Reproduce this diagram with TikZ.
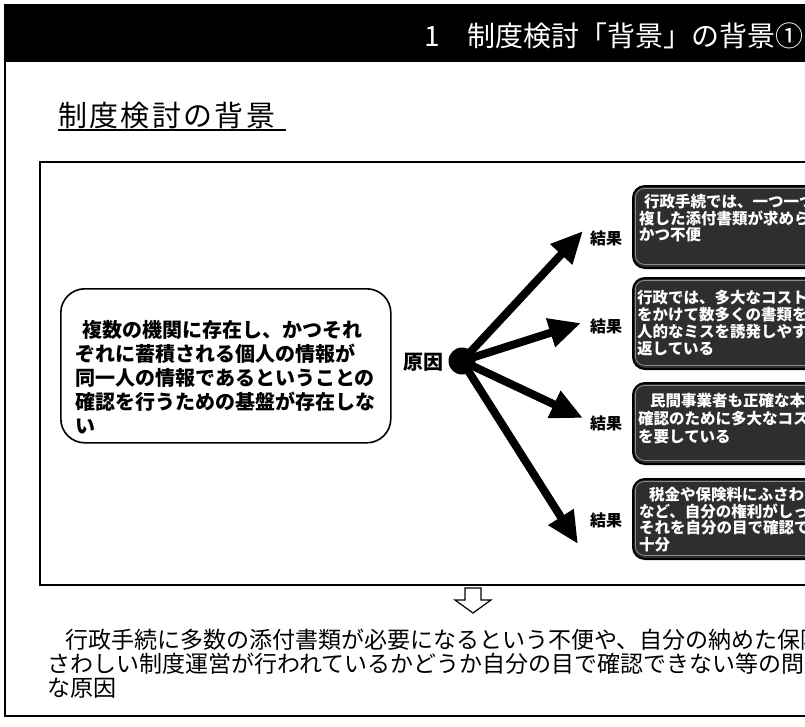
\documentclass[tikz,border=0pt]{standalone}
\usepackage{fontspec}
\setmainfont{Noto Sans CJK JP}
\newfontfamily\cjk{Noto Sans CJK JP}
\newfontfamily\cjkwide[LetterSpace=8]{Noto Sans CJK JP}
\usetikzlibrary{arrows.meta}
\tikzset{
  frameline/.style={line width=2pt, draw=black},
  causebox/.style={draw=black, line width=1.6pt, rounded corners=24pt, fill=white,
    minimum width=330pt, minimum height=154pt, anchor=north west, inner sep=0pt},
  resultbox/.style={draw=black, line width=2pt, rounded corners=12pt, fill=black!82,
    minimum width=220pt, anchor=north west, inner sep=0pt},
  resultring/.style={draw=white!55!black, line width=0.8pt, rounded corners=9pt,
    fill=none, minimum width=214pt, anchor=north west, inner sep=0pt},
  resulttext/.style={anchor=north west, inner sep=0pt, align=left, text=white,
    font=\cjk\bfseries\fontsize{15.5}{16.5}\selectfont},
  resultlabel/.style={anchor=west, inner sep=0pt, font=\cjk\bfseries\fontsize{16}{16}\selectfont},
  bigarrow/.style={line width=8pt, -{Triangle[length=32pt,width=28pt]}},
  hollowarrow/.style={draw=black, line width=1.2pt, fill=white, line join=miter}
}
\begin{document}
\begin{tikzpicture}[x=1pt,y=-1pt]
\useasboundingbox (0,0) rectangle (805,726);
\clip (0,0) rectangle (805,726);
\fill[white] (0,0) rectangle (805,726);

% slide frame and title bar
\fill[black] (4,4) rectangle (805,62);
\draw[frameline] (5,4) -- (5,716) -- (805,716);
\node[anchor=west, inner sep=0pt, text=white, font=\cjk\fontsize{28}{28}\selectfont] (title) at (424,36) {1　制度検討「背景」の背景①};

% subtitle
\node[anchor=base west, inner sep=0pt, font=\cjkwide\fontsize{29}{29}\selectfont] (sub) at (58,126) {制度検討の背景};
\draw[line width=1.3pt] (58,130) -- (286,130);

% main frame
\draw[frameline] (40,162) rectangle (840,585);

% cause box
\node[causebox] (cause) at (60,288) {};
\node[anchor=north west, inner sep=0pt, align=left, font=\cjk\bfseries\fontsize{20}{24}\selectfont] (causetext) at (75,320)
  {\hspace{7pt}複数の機関に存在し、かつそれ\\ぞれに蓄積される個人の情報が\\同一人の情報であるということの\\確認を行うための基盤が存在しな\\い};

\node[anchor=east, inner sep=0pt, font=\cjk\bfseries\fontsize{20}{20}\selectfont] (genin) at (444,362) {原因};
\node[circle, fill=black, minimum size=27pt, inner sep=0pt] (c) at (462,361) {};

% arrow tips
\coordinate (t1) at (583,231);
\coordinate (t2) at (581,323);
\coordinate (t3) at (583,418);
\coordinate (t4) at (578,544);
\draw[bigarrow] (c.center) -- (t1);
\draw[bigarrow] (c.center) -- (t2);
\draw[bigarrow] (c.center) -- (t3);
\draw[bigarrow] (c.center) -- (t4);

% result labels
\node[resultlabel] (k1) at (590,238) {結果};
\node[resultlabel] (k2) at (590,326) {結果};
\node[resultlabel] (k3) at (590,423) {結果};
\node[resultlabel] (k4) at (590,520) {結果};

% result boxes
\node[resultbox, minimum height=82pt] (r1) at (632,185) {};
\node[resultring, minimum height=76pt] (r1i) at (635,188) {};
\node[resultbox, minimum height=91pt] (r2) at (632,277) {};
\node[resultring, minimum height=85pt] (r2i) at (635,280) {};
\node[resultbox, minimum height=81pt] (r3) at (632,382) {};
\node[resultring, minimum height=75pt] (r3i) at (635,385) {};
\node[resultbox, minimum height=80pt] (r4) at (632,478) {};
\node[resultring, minimum height=74pt] (r4i) at (635,481) {};

\node[resulttext] (r1t) at (639,194) {\hspace{5pt}行政手続では、一つ一つの手続ごとに重\\複した添付書類が求められ、国民にとって煩雑\\かつ不便};
\node[resulttext, font=\cjk\bfseries\fontsize{15.5}{17}\selectfont] (r2t) at (637,290) {行政では、多大なコストと時間\\をかけて数多くの書類を照合し、\\人的なミスを誘発しやすい作業を繰り\\返している};
\node[resulttext, font=\cjk\bfseries\fontsize{15.5}{18}\selectfont] (r3t) at (638,393) {\hspace{12pt}民間事業者も正確な本人\\確認のために多大なコスト\\を要している};
\node[resulttext] (r4t) at (639,487) {\hspace{10pt}税金や保険料にふさわしい給付\\など、自分の権利がしっかり守られ\\それを自分の目で確認できる仕組みが不\\十分};

% hollow down arrow
\draw[hollowarrow] (465,588) -- (481,588) -- (481,600) -- (491,600) -- (473,613) -- (455,600) -- (465,600) -- cycle;

% conclusion text
\node[anchor=north west, inner sep=0pt, align=left, font=\cjk\fontsize{23}{24}\selectfont] (concl) at (47,628.5)
  {\hspace{18pt}行政手続に多数の添付書類が必要になるという不便や、自分の納めた保険料や税金にふ\\さわしい制度運営が行われているかどうか自分の目で確認できない等の問題の大き\\な原因};
\end{tikzpicture}
\end{document}
